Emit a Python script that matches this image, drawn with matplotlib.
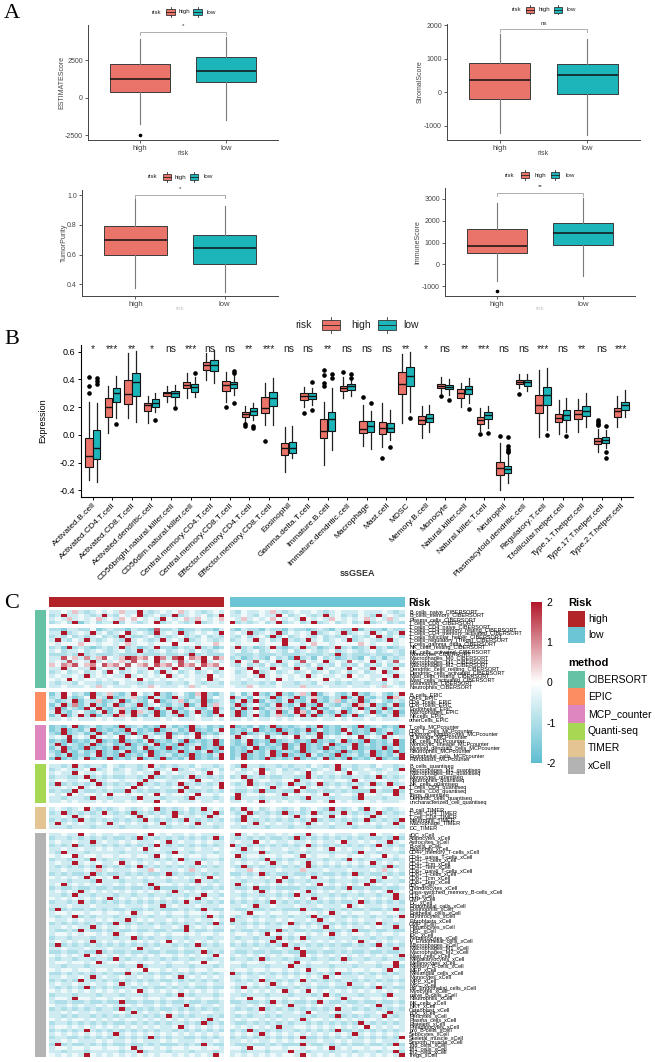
import matplotlib
matplotlib.use("Agg")
import matplotlib.pyplot as plt
import numpy as np
from matplotlib.patches import Rectangle
from matplotlib.lines import Line2D
from matplotlib.colors import LinearSegmentedColormap, ListedColormap, Normalize
from matplotlib.colorbar import ColorbarBase

plt.rcParams['font.family'] = ['Liberation Sans', 'DejaVu Sans']
plt.rcParams['axes.unicode_minus'] = False

# ---------------- panel A data (q1, median, q3, whisker low, whisker high) ----------------
a_names = ['ESTIMATEScore', 'StromalScore', 'TumorPurity', 'ImmuneScore']
a_sig = ['*', 'ns', '*', '**']
a_high = [[402, 1233, 2238, -1783, 3934],
          [-200, 358, 865, -1225, 1740],
          [0.596, 0.70, 0.789, 0.375, 0.971],
          [507, 843, 1613, -756, 2811]]
a_low = [[1032, 1790, 2708, -1494, 4088],
         [-41, 525, 836, -1275, 1582],
         [0.535, 0.645, 0.729, 0.35, 0.926],
         [889, 1456, 1871, -539, 3041]]
a_high_out = [[-2500], [], [], [-1230]]
a_low_out = [[], [], [], []]
a_ticks = [[-2500, 0, 2500], [-1000, 0, 1000, 2000], [0.4, 0.6, 0.8, 1.0], [-1000, 0, 1000, 2000, 3000]]
a_bracket = [4423, 1886, 1.0, 3270]
a_ylim = [(-2835, 4870), (-1424, 2039), (0.321, 1.034), (-1447, 3493)]

# ---------------- panel B data ----------------
b_cells = ['Activated.B.cell', 'Activated.CD4.T.cell', 'Activated.CD8.T.cell', 'Activated.dendritic.cell',
           'CD56bright.natural.killer.cell', 'CD56dim.natural.killer.cell', 'Central.memory.CD4.T.cell',
           'Central.memory.CD8.T.cell', 'Effector.memory.CD4.T.cell', 'Effector.memory.CD8.T.cell',
           'Eosinophil', 'Gamma.delta.T.cell', 'Immature.B.cell', 'Immature.dendritic.cell', 'Macrophage',
           'Mast.cell', 'MDSC', 'Memory.B.cell', 'Monocyte', 'Natural.killer.cell', 'Natural.killer.T.cell',
           'Neutrophil', 'Plasmacytoid.dendritic.cell', 'Regulatory.T.cell', 'T.follicular.helper.cell',
           'Type.1.T.helper.cell', 'Type.17.T.helper.cell', 'Type.2.T.helper.cell']
b_sig = ['*', '***', '**', '*', 'ns', '***', 'ns', 'ns', '**', '***', 'ns', 'ns', '**', 'ns',
         'ns', 'ns', '**', '*', 'ns', '**', '***', 'ns', 'ns', '***', 'ns', '**', 'ns', '***']
b_high = [[-0.228, -0.149, -0.019, -0.324, 0.24], [0.127, 0.204, 0.264, 0.012, 0.353],
          [0.221, 0.295, 0.393, 0.125, 0.588], [0.173, 0.216, 0.233, 0.084, 0.28],
          [0.28, 0.30, 0.312, 0.24, 0.355], [0.336, 0.36, 0.384, 0.268, 0.444],
          [0.468, 0.504, 0.528, 0.396, 0.588], [0.319, 0.36, 0.391, 0.24, 0.456],
          [0.132, 0.149, 0.163, 0.096, 0.209], [0.156, 0.192, 0.276, 0.072, 0.372],
          [-0.144, -0.096, -0.055, -0.264, 0.06], [0.252, 0.283, 0.30, 0.204, 0.348],
          [-0.024, 0.029, 0.115, -0.216, 0.235], [0.319, 0.34, 0.355, 0.268, 0.42],
          [0.017, 0.043, 0.10, -0.077, 0.216], [0.005, 0.048, 0.091, -0.084, 0.228],
          [0.295, 0.365, 0.451, 0.089, 0.583], [0.077, 0.108, 0.139, -0.019, 0.211],
          [0.336, 0.355, 0.367, 0.305, 0.415], [0.269, 0.305, 0.329, 0.204, 0.377],
          [0.079, 0.108, 0.127, 0.029, 0.197], [-0.288, -0.235, -0.192, -0.396, -0.06],
          [0.365, 0.384, 0.396, 0.336, 0.436], [0.156, 0.216, 0.288, -0.012, 0.468],
          [0.091, 0.125, 0.151, 0.005, 0.252], [0.113, 0.149, 0.18, 0.019, 0.259],
          [-0.065, -0.041, -0.024, -0.12, 0.043], [0.127, 0.173, 0.197, 0.055, 0.28]]
b_low = [[-0.175, -0.091, 0.034, -0.336, 0.233], [0.24, 0.30, 0.336, 0.12, 0.427],
         [0.28, 0.379, 0.444, 0.096, 0.604], [0.199, 0.228, 0.259, 0.163, 0.305],
         [0.273, 0.30, 0.317, 0.216, 0.36], [0.312, 0.348, 0.365, 0.276, 0.415],
         [0.463, 0.504, 0.54, 0.372, 0.61], [0.336, 0.365, 0.384, 0.288, 0.436],
         [0.144, 0.173, 0.192, 0.108, 0.233], [0.209, 0.264, 0.312, 0.072, 0.408],
         [-0.132, -0.091, -0.048, -0.168, 0.065], [0.259, 0.283, 0.305, 0.216, 0.336],
         [0.029, 0.115, 0.163, -0.108, 0.336], [0.324, 0.353, 0.367, 0.283, 0.403],
         [0.019, 0.067, 0.10, -0.10, 0.173], [0.019, 0.048, 0.084, -0.036, 0.18],
         [0.355, 0.424, 0.487, 0.168, 0.60], [0.096, 0.125, 0.149, 0.024, 0.216],
         [0.329, 0.348, 0.36, 0.288, 0.403], [0.293, 0.331, 0.355, 0.228, 0.412],
         [0.113, 0.144, 0.163, 0.048, 0.209], [-0.271, -0.245, -0.221, -0.348, -0.089],
         [0.353, 0.379, 0.396, 0.319, 0.436], [0.216, 0.288, 0.348, 0.036, 0.48],
         [0.108, 0.144, 0.18, 0.024, 0.269], [0.139, 0.173, 0.209, 0.06, 0.30],
         [-0.055, -0.036, -0.017, -0.091, 0.036], [0.18, 0.216, 0.24, 0.132, 0.324]]
b_high_out = [[0.415, 0.353, 0.305], [], [], [], [], [], [], [0.204], [0.077, 0.067], [-0.043],
              [], [0.161], [0.468, 0.432, 0.372, 0.355], [0.45], [0.276], [-0.163], [], [],
              [0.278], [], [0.005], [-0.007], [0.293], [], [], [], [0.108, 0.096, 0.082, 0.072], []]
b_low_out = [[0.412, 0.388, 0.365], [0.08], [], [0.108], [0.192], [0.448], [], [0.46, 0.448, 0.233],
             [0.067, 0.048], [], [], [0.384, 0.18], [0.436, 0.408], [0.439, 0.412], [0.228], [-0.086],
             [0.12], [], [0.249], [0.187], [0.012], [-0.017, -0.079, -0.10, -0.115, -0.125], [],
             [0.0], [-0.007], [], [0.067, -0.125, -0.168], []]

# ---------------- panel C data (each digit is a level, see level_values; first 30 high, last 30 low) ----------------
level_values = [-2.0, -1.5, -1.0, -0.6, -0.2, 0.5, 1.0, 1.5, 2.0, 0.0]
cib_cells = ['B_cells_naive', 'B_cells_memory', 'Plasma_cells', 'T_cells_CD8', 'T_cells_CD4_naive',
             'T_cells_CD4_memory_resting', 'T_cells_CD4_memory_activated', 'T_cells_follicular_helper',
             'T_cells_regulatory_(Tregs)', 'T_cells_gamma_delta', 'NK_cells_resting', 'NK_cells_activated',
             'Monocytes', 'Macrophages_M0', 'Macrophages_M1', 'Macrophages_M2', 'Dendritic_cells_resting',
             'Dendritic_cells_activated', 'Mast_cells_resting', 'Mast_cells_activated', 'Eosinophils',
             'Neutrophils']
cib_rows = [
    "3343532343 4353383234 3453432343 3243343532 3433432343 3343334323",
    "2383343238 3243482342 3823434238 3343243384 2343238342 3243283432",
    "3435343453 4354543438 4345354345 4353434543 4384343543 4345343534",
    "2342813423 3824323482 3432382343 8232342382 3423823423 4238234232",
    "9999999999 9999999999 9999999999 9999999999 9999999999 9999999999",
    "2213322412 3221322172 2312232213 2132213221 3221232132 2813221322",
    "3382343834 2348343283 4382343438 3438234382 4343823438 2343834238",
    "2324232342 3283223423 2342324232 3242342824 2343242323 4232483242",
    "3832438323 4328343238 3438234323 2343834238 3238342343 8234323834",
    "4344454434 4345344344 4844434454 4344434448 4434544344 4454344434",
    "2318232123 2382312382 2132382312 3823123821 2382312382 3123823123",
    "3423342343 2342383234 2343243234 3423423432 4234323423 4323423432",
    "2223282322 2322232223 2232823222 3222322232 2232223282 3222322232",
    "3374536357 4358756486 3784658475 2312321423 1823142312 3214231323",
    "3437343834 3453743483 4373438343 3843743483 4374348343 7434834374",
    "5465745647 5647456475 6475647564 3242324232 4232423242 3242324232",
    "3383433834 3383433843 3843384338 4338433843 3843383433 8433843384",
    "2342342342 8423423428 3423423423 4234823423 4234234234 2342348234",
    "3433438343 4338343434 8343433843 4334383434 3438343343 8434334383",
    "4348434434 3443484343 4434434834 4343443484 3443448434 4344348434",
    "3233243323 3243323233 2332432332 3323323243 3233243323 2332332432",
    "3343334353 4333433543 3343534333 4335433343 3353334333 4333435343",
]
epic_cells = ['B_cells', 'CAFs', 'CD4_Tcells', 'CD8_Tcells', 'Endothelial', 'Macrophages', 'NKcells', 'otherCells']
epic_rows = [
    "1384231823 5213842382 1342158213 2413821382 1352813421 3821342138",
    "2383124832 8123521832 1832138243 8231432813 2813521328 1382132853",
    "3123813251 2381321481 2351328123 1382813213 8213821351 3281342132",
    "1382613821 3813281342 1328138253 2813421382 1382183213 2853821381",
    "2813218382 1352132813 8213421382 1382813253 2813821342 1381328132",
    "3821342138 1382853281 3821382183 2813421381 3851382138 1342813281",
    "1381382813 2853821381 3281342138 2813821352 1382813281 3813421382",
    "3343433343 4334343334 3433343343 3343433434 3433343343 4334343334",
]
mcp_cells = ['T_cells', 'CD8_T_cells', 'Cytotoxic_lymphocytes', 'B_lineage', 'NK_cells', 'Monocytic_lineage',
             'Myeloid_dendritic_cells', 'Neutrophils', 'Endothelial_cells', 'Fibroblasts']
mcp_rows = [
    "1213812312 2181231218 3121823121 8121312812 1231281213 2181231218",
    "1281213812 1218312181 2312812138 1213812181 2128131218 3121812312",
    "2181231281 3121812312 8121381213 1281231218 2131281213 8121312812",
    "3438343834 3483438343 8343483434 3834348343 4834383434 3483438343",
    "1218121381 2181213812 1318121281 2138121812 3121812138 1218121381",
    "2813212812 3128121381 2181231281 2128131218 1281213812 2813121281",
    "1381218121 2812138121 8121381218 1213812128 1381218121 3812128131",
    "2182131281 2138121812 1281213812 1218213812 2181231218 1213812181",
    "3128121381 2181213812 3121812138 1281213818 1218312181 2312812138",
    "1812138121 8121381218 1213812128 1381218121 2812138121 8121381218",
]
quanti_cells = ['B_cells', 'Macrophages_M1', 'Macrophages_M2', 'Monocytes', 'Neutrophils', 'NK_cells',
                'T_cells_CD4', 'T_cells_CD8', 'Tregs', 'Dendritic_cells', 'uncharacterized_cell']
quanti_rows = [
    "3323832332 4323323832 3233243323 3283323323 2332432383 3233243323",
    "2343234823 4234323423 4823432342 3423482342 3234234382 4234323428",
    "3433843343 4334343384 3433343843 4334384343 3438343343 8433434334",
    "2332238232 3223323822 3223823232 2382323223 3228323232 2332382323",
    "3443344833 4434438344 3344384433 4438344334 4833443344 3843344334",
    "2823232382 3232382323 2382323238 3238232323 8232382323 2323823823",
    "3343483433 4334834343 3438343348 4334343834 3483433434 3834343348",
    "2322832232 3228323223 2283223232 3223282232 2832232232 3222832282",
    "4348434434 8443443484 3443484434 4834434438 4344348434 4384434483",
    "3323332833 2333283332 3332833323 2833323332 3328333233 3283332333",
    "3343433343 4334343384 3433343343 3343483434 3433343843 4334343334",
]
timer_cells = ['B_cell', 'T_cell_CD4', 'T_cell_CD8', 'Neutrophil', 'Macrophage', 'DC']
timer_rows = [
    "3432348323 2343234382 3234238343 2383423432 3423432832 3428343234",
    "2382323238 3232823232 3823232382 3238232328 2323823238 3232382323",
    "3343834334 4334383434 3843343834 4383433434 3834343843 4343834334",
    "2323283232 3232328323 2328323232 3283232323 2323823232 3238232328",
    "3834343343 8343433438 3434383433 4343834343 3438343433 8343434383",
    "3332333233 3323332333 2333233323 3323332333 2332333233 3233323332",
]
xcell_cells = ['aDC', 'Adipocytes', 'Astrocytes', 'B-cells', 'Basophils', 'CD4+_memory_T-cells',
               'CD4+_naive_T-cells', 'CD4+_T-cells', 'CD4+_Tcm', 'CD4+_Tem', 'CD8+_naive_T-cells',
               'CD8+_T-cells', 'CD8+_Tcm', 'CD8+_Tem', 'cDC', 'Chondrocytes', 'Class-switched_memory_B-cells',
               'CLP', 'CMP', 'DC', 'Endothelial_cells', 'Eosinophils', 'Epithelial_cells', 'Erythrocytes',
               'Fibroblasts', 'GMP', 'Hepatocytes', 'HSC', 'iDC', 'Keratinocytes', 'ly_Endothelial_cells',
               'Macrophages', 'Macrophages_M1', 'Macrophages_M2', 'Mast_cells', 'Megakaryocytes',
               'Melanocytes', 'Memory_B-cells', 'MEP', 'Mesangial_cells', 'Monocytes', 'MPP', 'MSC',
               'mv_Endothelial_cells', 'Myocytes', 'naive_B-cells', 'Neutrophils', 'NK_cells', 'NKT',
               'Osteoblast', 'pDC', 'Pericytes', 'Plasma_cells', 'Platelets', 'Preadipocytes',
               'pro_B-cells', 'Sebocytes', 'Skeletal_muscle', 'Smooth_muscle', 'Tgd_cells', 'Th1_cells',
               'Th2_cells', 'Tregs']
xcell_rows = [
    "3343384343 3433343843 4334343334 3834343343 4338343433 3433843343",
    "2332323232 3223282323 2323232382 3232323223 2823232323 2323223282",
    "3433433834 3343433343 8343343433 3433843433 4334343348 3343433834",
    "2323823232 3232323283 2323232323 8232323232 3238232323 2323283232",
    "3343343343 4334348343 3343343343 4383434334 3343343843 4334343343",
    "3283332333 3323332333 2833233323 3323382333 2332333233 3283323332",
    "4344834434 4344344384 3443443443 4834434434 4384344344 3443448434",
    "2332332832 3323323323 2382332332 3323328323 2332332332 8323323323",
    "3433834343 3483434343 4343384343 3434343834 3438343434 3434834343",
    "3232323282 3232382323 2323232323 3282323232 3238232323 2323232823",
    "3343334353 4333433543 3343534333 4335433343 3353334333 4333435343",
    "2323223823 2232323223 8232232323 2232382322 3223232232 3823223232",
    "4343438343 4834343434 3434343843 4343434348 3434834343 4343438434",
    "3332333283 3323332333 2333283323 3323332383 2332333233 3233823332",
    "3483434343 3434343834 4343434343 3834343434 3434384343 4348343434",
    "2322322322 3223223282 2232232232 3223822322 2232232232 8223223223",
    "3434383434 3434343434 3834343434 3434383434 3438343434 3434343834",
    "3323833233 3233233233 2332338332 3323323323 2833233232 3323323383",
    "4343434343 8343434343 4343483434 3434343434 3434834343 4343434383",
    "2332383232 3232323232 3238323232 2323232832 3232323232 2382323232",
    "3334333433 3343334338 3433343334 3343833433 3433343334 8343334333",
    "2823223232 3223223232 2232328322 3223223232 2283223232 3223223282",
    "3443443443 4434834434 3443443443 4438443443 4434434834 3443443443",
    "3233823233 3233233233 2332332832 3233233233 2332832332 3233233238",
    "4334343343 4338343433 4343343343 8334343343 4334383433 4343343343",
    "2323232323 2832323232 3232323282 2323232323 8232323232 3232382323",
    "3343433834 3343433343 3438343433 4334343334 3343438343 4334343383",
    "3223283223 2322322322 3228322322 2322322382 3223223223 2822322322",
    "3443434434 3834434434 3443434434 3443438434 3443434834 3443434434",
    "2332333233 3233823233 2332333233 3233233283 2382333233 3233233233",
    "3434343834 3434343434 8434343434 3434343834 3434343434 3483434343",
    "2823232323 2323232323 3232382323 2323232328 3232323232 2323283232",
    "3343334333 4333483343 3343334333 4333433343 3843334333 4333433383",
    "2232232282 3223223223 2232238232 3223223223 2282232232 3223223223",
    "4343438434 3434343434 4343434384 3434343434 4384343434 3434343438",
    "3233233233 2832332332 3233233233 2332382332 3233233238 2332332332",
    "3443443483 4434434434 3443448443 4434434434 3843443443 4434434484",
    "3323332333 3323382333 2333233323 3323332333 8332333233 3233323382",
    "4344344344 3443448443 4344344344 3443443443 4348344344 3443443843",
    "2232323232 3228323232 2323232323 8232323232 3232323282 2323232323",
    "3343343834 3343343343 4383434343 3343343343 4343438343 3343343343",
    "2323283232 3232323232 2323232323 3232382323 2383232323 3232323232",
    "3433433433 4383434334 3433433433 4334343834 3433433433 8334343343",
    "3232328232 3223232322 3232322322 3283232322 3232322322 3223282322",
    "4343434343 4343483434 3434343434 4343434348 3438434343 4343434343",
    "2333233323 3323332333 2383233323 3323332333 2333238323 3323332833",
    "3443844344 3443443443 4434434434 3448443443 4434434438 3443443443",
    "3223223223 2282232232 3223223223 2232232832 3223283223 2232232232",
    "4334343343 4334343343 4338343343 4334343343 8334343343 4334383343",
    "2323232323 3282323232 2323232323 3232382323 2323232383 3232323232",
    "3343433433 3443834334 3434334433 3443343343 3438433433 3443343833",
    "3323233232 3232332323 8323233232 3232332323 3323233282 3232338323",
    "4343443434 3434434343 4343443834 3434434343 4383443434 3434434343",
    "2332323232 3223232323 2332328232 3223232323 2332323232 3283232323",
    "3443434343 4343434343 3483434343 4343434383 3443434343 4348434343",
    "2323238323 2323232323 3232323232 2328232323 3232323282 2323232323",
    "3434343434 3834343434 3434343434 3434383434 3434343434 3834343434",
    "2332232323 2323232823 2332232323 2323232323 2382232323 2323232328",
    "3343433343 4334343334 3433343343 3343433434 3433343343 4334343334",
    "2823223232 3223223232 2232328322 3223223232 2283223232 3223223282",
    "3443443443 4434834434 3443443443 4438443443 4434434834 3443443443",
    "3323332333 3323382333 2333233323 3323332333 8332333233 3233323382",
    "4343438434 3434343434 4343434384 3434343434 4384343434 3434343438",
]
sample_risk = ['high'] * 30 + ['low'] * 30
methods = ['CIBERSORT', 'EPIC', 'MCP_counter', 'Quanti-seq', 'TIMER', 'xCell']
method_suffix = ['CIBERSORT', 'EPIC', 'MCPcounter', 'quantiseq', 'TIMER', 'xCell']
method_cells = [cib_cells, epic_cells, mcp_cells, quanti_cells, timer_cells, xcell_cells]
method_rows = [cib_rows, epic_rows, mcp_rows, quanti_rows, timer_rows, xcell_rows]
method_colors = ['#66C2A5', '#FC8D62', '#DE87BE', '#A6D854', '#E5C494', '#B3B3B3']

# ---------------- styling ----------------
HIGH_C = '#EA736A'
LOW_C = '#1CB5B9'
RISK_HIGH = '#B22428'
RISK_LOW = '#6CC5D4'

W, H = 655, 1062
fig = plt.figure(figsize=(W / 100, H / 100), dpi=100)


def px_axes(l, t, r, b):
    return fig.add_axes([l / W, 1 - b / H, (r - l) / W, (b - t) / H])


def fx(x):
    return x / W


def fy(y):
    return 1 - y / H


def stats_of(v, out):
    return dict(q1=v[0], med=v[1], q3=v[2], whislo=v[3], whishi=v[4], fliers=out)


def key_glyph(x, y, w, h, color, lw=0.6):
    fig.add_artist(Rectangle((fx(x), fy(y + h)), w / W, h / H, transform=fig.transFigure,
                             facecolor=color, edgecolor='#333333', linewidth=lw))
    xm = fx(x + w / 2)
    fig.add_artist(Line2D([fx(x), fx(x + w)], [fy(y + h / 2)] * 2, transform=fig.transFigure,
                          color='#222222', linewidth=lw))
    st = h * 0.3
    fig.add_artist(Line2D([xm, xm], [fy(y - st), fy(y)], transform=fig.transFigure, color='#333333', linewidth=lw))
    fig.add_artist(Line2D([xm, xm], [fy(y + h), fy(y + h + st)], transform=fig.transFigure, color='#333333', linewidth=lw))


def risk_legend(yc, xs, w, h, size):
    fig.text(fx(xs[0]), fy(yc), 'risk', fontsize=size, va='center', ha='left', color='#222222')
    key_glyph(xs[1], yc - h / 2, w, h, HIGH_C)
    fig.text(fx(xs[2]), fy(yc), 'high', fontsize=size, va='center', ha='left', color='#222222')
    key_glyph(xs[3], yc - h / 2, w, h, LOW_C)
    fig.text(fx(xs[4]), fy(yc), 'low', fontsize=size, va='center', ha='left', color='#222222')


# ---------------- panel A ----------------
a_box = [(88, 25, 278, 140), (447, 24, 640, 140), (82, 190, 278, 296), (445, 188, 635, 296)]
a_leg = [(12, (152, 166, 179, 193, 207)), (9.5, (512, 526, 539, 554, 567)),
         (177, (148, 163, 175, 190, 204)), (175, (505, 521, 535, 551, 566))]
a_ylab_x = [62, 420, 64, 418]

for k in range(4):
    l, t, r, b = a_box[k]
    ax = px_axes(l, t, r, b)
    st = [stats_of(a_high[k], a_high_out[k]), stats_of(a_low[k], a_low_out[k])]
    bp = ax.bxp(st, positions=[1, 2], widths=0.7, patch_artist=True, showcaps=False,
                boxprops=dict(edgecolor='#3a3a3a', linewidth=0.7),
                whiskerprops=dict(color='#7a7a7a', linewidth=0.8),
                medianprops=dict(color='#111111', linewidth=1.1),
                flierprops=dict(marker='o', markersize=1.6, markerfacecolor='black',
                                markeredgecolor='black', linestyle='none'))
    for patch, c in zip(bp['boxes'], [HIGH_C, LOW_C]):
        patch.set_facecolor(c)
    ax.set_xlim(0.4, 2.6)
    ax.set_ylim(*a_ylim[k])
    ax.set_yticks(a_ticks[k])
    if k == 2:
        ax.set_yticklabels([f'{v:.1f}' for v in a_ticks[k]])
    else:
        ax.set_yticklabels([str(v) for v in a_ticks[k]])
    ax.set_xticks([1, 2], ['high', 'low'])
    for s in ['top', 'right']:
        ax.spines[s].set_visible(False)
    for s in ['left', 'bottom']:
        ax.spines[s].set_color('#444444')
        ax.spines[s].set_linewidth(0.7)
    ax.tick_params(length=2.2, width=0.6, color='#444444', labelsize=5, labelcolor='#444444', pad=1.5)
    ax.tick_params(axis='x', labelsize=5.5)
    # significance bracket
    yr = a_ylim[k][1] - a_ylim[k][0]
    d = 3 * yr / (b - t)
    yb = a_bracket[k]
    ax.plot([1, 1, 2, 2], [yb - d, yb, yb, yb - d], color='#a0a0a0', linewidth=0.6, clip_on=False)
    ax.text(1.5, yb + 1.2 * d, a_sig[k], ha='center', va='bottom', fontsize=4.5, color='#333333')
    fig.text(fx(a_ylab_x[k]), fy((t + b) / 2), a_names[k], rotation=90, ha='center', va='center',
             fontsize=5, color='#444444')
    yc, xs = a_leg[k]
    risk_legend(yc, xs, 9 if k == 0 else 8, 6, 4.5)

fig.text(fx(183), fy(153), 'risk', ha='center', va='center', fontsize=5, color='#444444')
fig.text(fx(543), fy(153), 'risk', ha='center', va='center', fontsize=5, color='#444444')
fig.text(fx(180), fy(309), 'risk', ha='center', va='center', fontsize=4, color='#c8c8c8')
fig.text(fx(540), fy(309), 'risk', ha='center', va='center', fontsize=4, color='#c8c8c8')

# ---------------- panel B ----------------
axb = px_axes(81, 345, 633, 497)
n = len(b_cells)
pos = np.arange(1, n + 1)
for vals, outs, off, c in [(b_high, b_high_out, -0.2, HIGH_C), (b_low, b_low_out, 0.2, LOW_C)]:
    st = [stats_of(v, o) for v, o in zip(vals, outs)]
    bp = axb.bxp(st, positions=pos + off, widths=0.38, patch_artist=True, showcaps=False,
                 boxprops=dict(edgecolor='#111111', linewidth=0.8),
                 whiskerprops=dict(color='#222222', linewidth=0.9),
                 medianprops=dict(color='#111111', linewidth=1.0),
                 flierprops=dict(marker='o', markersize=2.3, markerfacecolor='black',
                                 markeredgecolor='black', linestyle='none'))
    for patch in bp['boxes']:
        patch.set_facecolor(c)
axb.set_xlim(0.4, n + 0.6)
axb.set_ylim(-0.447, 0.648)
yt = [-0.4, -0.2, 0.0, 0.2, 0.4, 0.6]
axb.set_yticks(yt, [f'{v:.1f}' for v in yt])
axb.set_xticks(pos)
axb.set_xticklabels(b_cells, rotation=45, ha='right', va='top', rotation_mode='anchor')
for s in ['top', 'right']:
    axb.spines[s].set_visible(False)
for s in ['left', 'bottom']:
    axb.spines[s].set_linewidth(0.8)
axb.tick_params(length=2.5, width=0.7, labelsize=6.5, pad=1.5)
axb.tick_params(axis='x', labelsize=6, pad=1)
for i, s in enumerate(b_sig):
    axb.text(pos[i], 0.62, s, ha='center', va='center', fontsize=7.5, color='#222222')
fig.text(fx(43), fy(421), 'Expression', rotation=90, ha='center', va='center', fontsize=6.5)
fig.text(fx(357), fy(573), 'ssGSEA', ha='center', va='center', fontsize=6.5, fontweight='bold',
         color='#333333')
risk_legend(325, (295, 322, 351, 378, 403), 18, 10, 7.5)

# ---------------- panel C ----------------
cmap = LinearSegmentedColormap.from_list('rb', ['#5DBDD0', '#FFFFFF', '#B2182B'])
norm = Normalize(-2, 2)
gap = 0.86
xedges = np.r_[np.arange(31), 30 + gap + np.arange(31)]

axr = px_axes(49, 597, 405, 607)
risk_code = np.array([[0 if r == 'high' else 1 for r in sample_risk]], dtype=float)
risk_code = np.insert(risk_code, 30, np.nan, axis=1)
axr.pcolormesh(xedges, [0, 1], np.ma.masked_invalid(risk_code),
               cmap=ListedColormap([RISK_HIGH, RISK_LOW]), vmin=0, vmax=1)
axr.set_xlim(0, 60 + gap)
axr.set_axis_off()
fig.text(fx(408), fy(603), 'Risk', ha='left', va='center', fontsize=7.5, fontweight='bold')

n_rows = sum(len(r) for r in method_rows)
rh = (1057 - 610 - 4 * (len(methods) - 1)) / n_rows
cur = 610.0
for m in range(len(methods)):
    rows = method_rows[m]
    nr = len(rows)
    data = np.array([[level_values[int(c)] for c in s.replace(' ', '').ljust(60, '4')[:60]] for s in rows])
    data = np.insert(data, 30, np.nan, axis=1)
    top, bot = cur, cur + nr * rh
    ax = px_axes(49, top, 405, bot)
    ax.pcolormesh(xedges, np.arange(nr + 1), np.ma.masked_invalid(data), cmap=cmap, norm=norm)
    ax.set_xlim(0, 60 + gap)
    ax.set_ylim(nr, 0)
    for s in ax.spines.values():
        s.set_visible(False)
    ax.set_xticks([])
    ax.set_yticks(np.arange(nr) + 0.5)
    ax.set_yticklabels([c + '_' + method_suffix[m] for c in method_cells[m]])
    ax.tick_params(axis='y', left=False, right=True, labelleft=False, labelright=True,
                   length=0, pad=3, labelsize=4)
    axm = px_axes(35, top, 46, bot)
    axm.set_facecolor(method_colors[m])
    axm.set_xticks([])
    axm.set_yticks([])
    for s in axm.spines.values():
        s.set_visible(False)
    cur = bot + 4

# colorbar
cax = px_axes(531, 602, 542, 763)
cb = ColorbarBase(cax, cmap=cmap, norm=norm, orientation='vertical', ticks=[-2, -1, 0, 1, 2])
cb.outline.set_visible(False)
cax.tick_params(length=0, labelsize=7.5, pad=3)

# annotation legends
fig.text(fx(568), fy(603), 'Risk', ha='left', va='center', fontsize=8, fontweight='bold')
for i, (lab, c) in enumerate([('high', RISK_HIGH), ('low', RISK_LOW)]):
    y0 = 611 + i * 16
    fig.add_artist(Rectangle((fx(568), fy(y0 + 16)), 17 / W, 16 / H, transform=fig.transFigure,
                             facecolor=c, edgecolor='none'))
    fig.text(fx(588), fy(y0 + 8), lab, ha='left', va='center', fontsize=7.5)
fig.text(fx(568), fy(663), 'method', ha='left', va='center', fontsize=8, fontweight='bold')
for i, (lab, c) in enumerate(zip(methods, method_colors)):
    y0 = 671 + i * 17.2
    fig.add_artist(Rectangle((fx(568), fy(y0 + 17.2)), 17 / W, 17.2 / H, transform=fig.transFigure,
                             facecolor=c, edgecolor='none'))
    fig.text(fx(588), fy(y0 + 8.6), lab, ha='left', va='center', fontsize=7.5)

# panel letters
for lab, y in [('A', 13), ('B', 340), ('C', 604)]:
    fig.text(fx(4), fy(y), lab, ha='left', va='center', fontsize=16, family='Liberation Serif')

fig.savefig('out.png', dpi=100)
